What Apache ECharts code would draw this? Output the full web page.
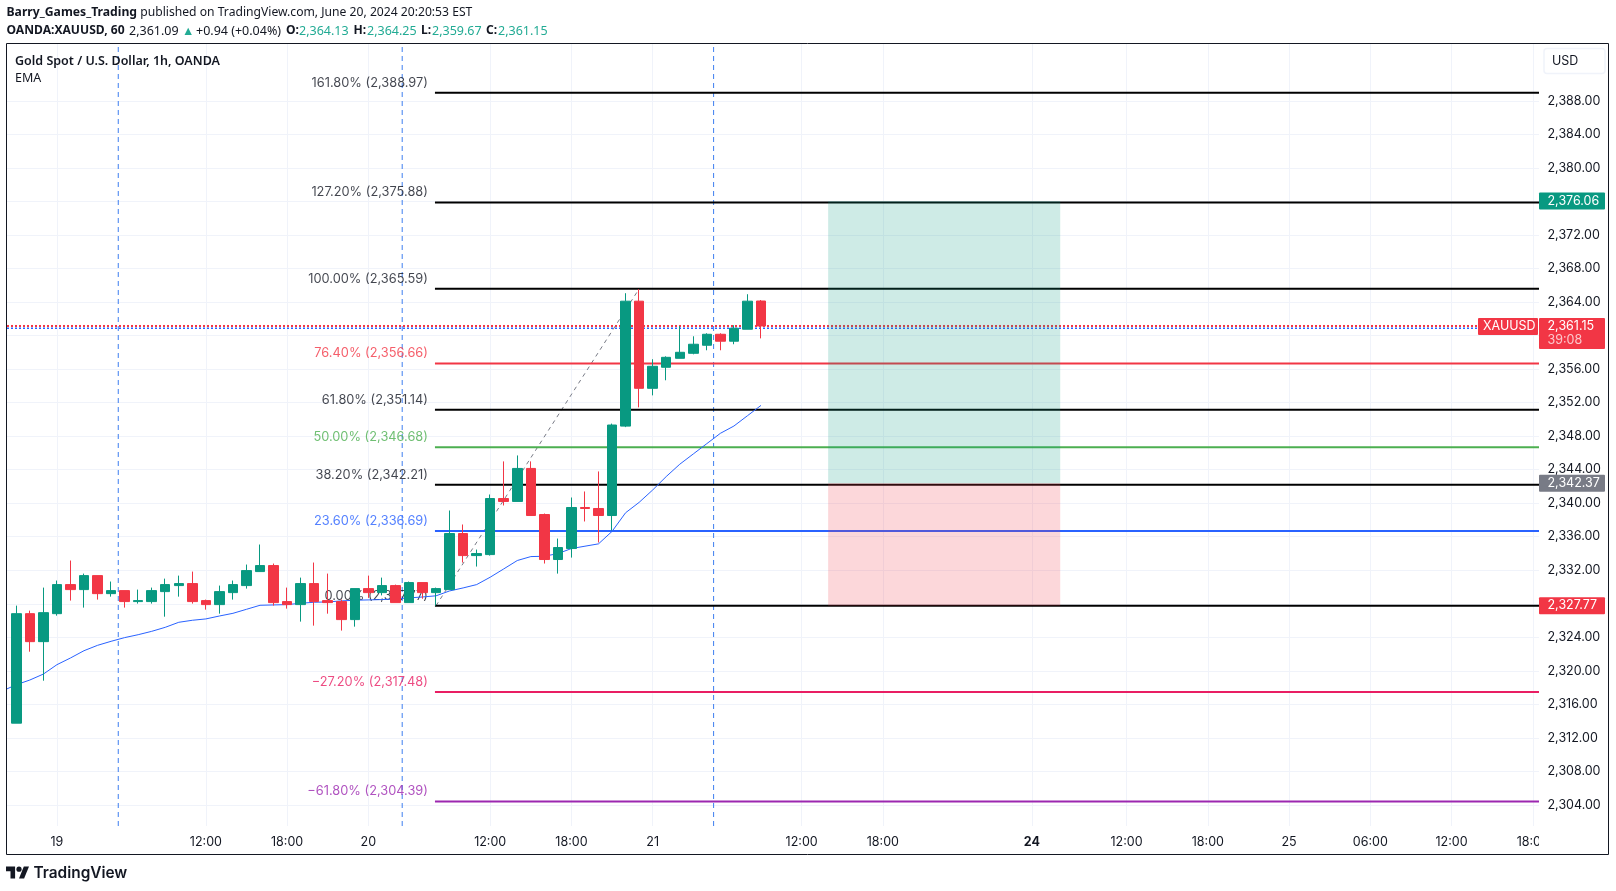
<!DOCTYPE html>
<html>
<head>
<meta charset="utf-8">
<title>XAUUSD</title>
<script src="https://cdn.jsdelivr.net/npm/echarts@6/dist/echarts.min.js"></script>
<style>
  html, body { margin: 0; padding: 0; background: #fff; }
  #main { width: 1616px; height: 891px; }
</style>
</head>
<body>
<div id="main"></div>
<script>
// hourly candles, x is the bar number
var candleOpen = [2313.75,2326.82,2323.48,2326.82,2330.29,2329.69,2331.36,2329.21,2329.57,2328.26,2328.26,2329.45,2330.17,2330.41,2328.38,2327.90,
  2329.33,2330.17,2331.84,2332.56,2328.26,2327.90,2330.41,2328.38,2328.26,2326.11,2329.81,2329.33,2330.17,2328.14,2330.53,2329.33,
  2329.69,2336.38,2333.75,2333.87,2340.56,2340.21,2344.15,2338.65,2333.28,2334.59,2339.49,2339.37,2338.53,2349.20,2364.11,2353.71,
  2356.22,2357.29,2357.89,2358.85,2360.16,2359.33,2360.76,2364.13];
var candleClose = [2326.82,2323.48,2326.94,2330.29,2329.69,2331.36,2329.21,2329.57,2328.26,2328.38,2329.57,2330.29,2330.41,2328.26,2327.90,2329.45,
  2330.29,2331.96,2332.56,2328.14,2327.90,2330.41,2328.26,2328.14,2326.11,2329.81,2329.33,2330.17,2328.14,2330.53,2329.33,2329.81,
  2336.38,2333.75,2333.99,2340.56,2340.21,2344.15,2338.53,2333.28,2334.71,2339.49,2339.37,2338.53,2349.33,2364.11,2353.71,2356.34,
  2357.41,2358.01,2358.97,2360.16,2359.33,2360.88,2364.11,2361.15];
var candleLow = [2313.75,2322.28,2318.82,2326.58,2328.38,2327.54,2328.50,2328.85,2327.54,2328.02,2328.02,2326.46,2328.85,2328.02,2327.30,2326.82,
  2328.50,2329.81,2331.84,2327.78,2327.42,2325.87,2325.39,2326.82,2324.80,2325.27,2328.70,2329.00,2328.14,2328.14,2328.60,2327.78,
  2329.69,2332.92,2332.44,2333.75,2339.73,2340.21,2338.53,2332.80,2331.60,2333.51,2337.82,2335.31,2336.74,2349.08,2351.44,2352.87,
  2354.67,2357.29,2357.77,2358.25,2358.25,2358.97,2360.76,2359.67];
var candleHigh = [2327.78,2327.18,2329.93,2330.77,2333.16,2331.60,2331.36,2330.65,2329.57,2329.69,2329.93,2331.00,2331.36,2331.84,2328.50,2330.17,
  2330.77,2332.68,2335.07,2332.80,2329.93,2331.12,2332.92,2331.60,2328.50,2329.81,2331.36,2331.12,2330.29,2330.65,2330.53,2329.93,
  2339.13,2337.46,2334.47,2341.04,2344.99,2345.70,2344.99,2338.77,2335.78,2340.68,2341.40,2343.79,2349.50,2365.06,2365.54,2357.18,
  2357.53,2361.12,2359.92,2360.28,2360.28,2361.24,2364.94,2364.25];

// EMA, first value sits one bar before the first candle
var emaValues = [2317.62,2318.34,2318.90,2319.61,2320.73,2321.53,2322.40,2323.04,2323.52,2323.96,2324.31,2324.71,2325.19,2325.79,2326.03,2326.19,2326.54,
  2326.86,2327.34,2327.82,2327.86,2327.90,2328.06,2328.18,2328.22,2328.34,2328.42,2328.46,2328.50,2328.58,2328.70,2328.81,2328.95,
  2329.53,2329.89,2330.29,2331.17,2332.16,2333.16,2333.63,2333.67,2333.99,2334.59,2334.87,2335.15,2336.64,2338.86,2340.10,2341.58,
  2343.18,2344.65,2345.88,2347.11,2348.34,2349.21,2350.44,2351.67];

var fibValues = [2388.97,2375.88,2365.59,2356.66,2351.14,2346.68,2342.21,2336.69,2327.77,2317.48,2304.39];
var fibNames = ['161.80% (2,388.97)','127.20% (2,375.88)','100.00% (2,365.59)','76.40% (2,356.66)','61.80% (2,351.14)','50.00% (2,346.68)',
  '38.20% (2,342.21)','23.60% (2,336.69)','0.00% (2,327.77)','\u221227.20% (2,317.48)','\u221261.80% (2,304.39)'];
var fibColors = ['#000000','#000000','#000000','#f23645','#000000','#4caf50','#000000','#2962ff','#000000','#e91e63','#9c27b0'];
var fibLabelColors = ['#131722','#131722','#131722','#f23645','#131722','#4caf50','#131722','#2962ff','#131722','#e91e63','#9c27b0'];
var fibStart = 30.92;
var trendFrom = [31, 2327.77];
var trendTo = [46, 2365.59];

var priceTicks = [2304,2308,2312,2316,2320,2324,2328,2332,2336,2340,2344,2348,2352,2356,2360,2364,2368,2372,2376,2380,2384,2388];
var timeTickBars = [3,14,20,26,35,41,47,58,64,75,82,88,94,100,106,112];
var timeTickNames = ['19','12:00','18:00','20','12:00','18:00','21','12:00','18:00','24','12:00','18:00','25','06:00','12:00','18:00'];
var boldTimeTicks = ['24'];
var sessionBars = [7.53,28.5,51.5];

// long position box
var boxFrom = 59.96;
var boxTo = 77.1;
var boxTarget = 2376.06;
var boxEntry = 2342.37;
var boxStop = 2327.77;

var lastPrice = 2361.15;
var lastPriceBlue = 2360.88;

var axisTagValues = [2376.06,2342.37,2327.77];
var axisTagTexts = ['2,376.06','2,342.37','2,327.77'];
var axisTagColors = ['#089981','#787b86','#f23645'];

var plotLeft = 7, plotRight = 1539, plotTop = 44, plotBottom = 826;
var xMin = -0.687, xMax = 112.46;
var yMin = 2301.48, yMax = 2394.80;
var UP = '#089981', DOWN = '#f23645', GRID = '#f0f3fa', INK = '#131722', TEAL = '#22ab94';
var AXIS_FONT = 'Inter';
var HEAD_FONT = '"Noto Sans"';

// second header line, piece by piece: text, left edge, kind
var quoteTexts = ['OANDA:XAUUSD, 60','2,361.09','\u25B2','+0.94 (+0.04%)','O:','2,364.13','H:','2,364.25','L:','2,359.67','C:','2,361.15'];
var quoteLefts = [6.5,129,182,196,286,299,353.5,367,421,432,486,498];
var quoteKinds = ['bold','plain','teal','plain','bold','teal','bold','teal','bold','teal','bold','teal'];

var candleData = candleOpen.map(function (o, i) {
  return [i, o, candleClose[i], candleLow[i], candleHigh[i]];
});
var emaData = emaValues.map(function (v, i) { return [i - 1, v]; });

var series = [];

// session break lines
sessionBars.forEach(function (b) {
  series.push({
    type: 'line', z: 2, silent: true, showSymbol: false, symbol: 'none',
    data: [[b, yMin], [b, yMax]],
    lineStyle: { color: '#3d7ef0', width: 1, type: [5, 4] }
  });
});

// last price dotted lines
series.push({
  type: 'line', z: 2, silent: true, symbol: 'none',
  data: [[xMin, lastPrice], [xMax, lastPrice]],
  lineStyle: { color: DOWN, width: 2, type: [2, 2] }
});
series.push({
  type: 'line', z: 2, silent: true, symbol: 'none',
  data: [[xMin, lastPriceBlue], [xMax, lastPriceBlue]],
  lineStyle: { color: '#2962ff', width: 1.5, type: [2, 2] }
});

// fib trend
series.push({
  type: 'line', z: 2, silent: true, symbol: 'none',
  data: [trendFrom, trendTo],
  lineStyle: { color: '#787b86', width: 1, type: [4, 4] }
});

// fib levels + their labels
fibValues.forEach(function (v, i) {
  series.push({
    type: 'line', z: 3, silent: true, symbol: 'none',
    data: [[fibStart, v], [xMax, v]],
    lineStyle: { color: fibColors[i], width: 2 }
  });
  series.push({
    type: 'scatter', z: 3, silent: true, symbolSize: 0,
    data: [[fibStart, v]],
    label: {
      show: true, position: [-7, -10], align: 'right', verticalAlign: 'middle',
      formatter: fibNames[i], color: fibLabelColors[i],
      fontFamily: AXIS_FONT, fontSize: 12.8
    }
  });
});

// EMA and the box carried on it
series.push({
  type: 'line', z: 5, silent: true, symbol: 'none',
  data: emaData,
  lineStyle: { color: '#2962ff', width: 1 },
  markArea: {
    silent: true,
    z: 4,
    data: [
      [{ coord: [boxFrom, boxTarget], itemStyle: { color: 'rgba(8,153,129,0.2)' } }, { coord: [boxTo, boxEntry] }],
      [{ coord: [boxFrom, boxEntry], itemStyle: { color: 'rgba(242,54,69,0.2)' } }, { coord: [boxTo, boxStop] }]
    ]
  }
});

series.push({
  type: 'candlestick', z: 6, silent: true,
  barWidth: 10,
  encode: { x: 0, y: [1, 2, 3, 4] },
  data: candleData,
  itemStyle: { color: UP, color0: DOWN, borderColor: UP, borderColor0: DOWN, borderWidth: 1 }
});

// price scale tags
series.push({
  type: 'custom', z: 8, silent: true, clip: false,
  data: axisTagValues.map(function (v, i) { return [0, v, i]; }),
  renderItem: function (params, api) {
    var y = api.coord([0, api.value(1)])[1];
    var idx = api.value(2);
    return {
      type: 'group',
      children: [
        { type: 'rect', shape: { x: plotRight, y: y - 8.5, width: 66, height: 17, r: 1 }, style: { fill: axisTagColors[idx] } },
        { type: 'text', style: { x: 1547.5, y: y, text: axisTagTexts[idx], fill: '#fff', font: '12.5px ' + AXIS_FONT, textVerticalAlign: 'middle' } }
      ]
    };
  }
});
series.push({
  type: 'custom', z: 8, silent: true, clip: false,
  data: [[0, lastPrice]],
  renderItem: function (params, api) {
    var y = api.coord([0, api.value(1)])[1];
    return {
      type: 'group',
      children: [
        { type: 'rect', shape: { x: 1478, y: y - 8, width: 60, height: 17, r: 1 }, style: { fill: DOWN } },
        { type: 'text', style: { x: 1483, y: y + 0.5, text: 'XAUUSD', fill: '#fff', font: '12.5px ' + AXIS_FONT, textVerticalAlign: 'middle' } },
        { type: 'rect', shape: { x: plotRight, y: y - 8, width: 66, height: 31, r: 1 }, style: { fill: DOWN } },
        { type: 'text', style: { x: 1547.5, y: y, text: '2,361.15', fill: '#fff', font: '12.5px ' + AXIS_FONT, textVerticalAlign: 'middle' } },
        { type: 'text', style: { x: 1547.5, y: y + 14, text: '39:08', fill: '#fcc8cc', font: '12.5px ' + AXIS_FONT, textVerticalAlign: 'middle' } }
      ]
    };
  }
});

var quoteFonts = { bold: 'bold 12.1px ' + HEAD_FONT, plain: '12.5px ' + HEAD_FONT, teal: '12.5px ' + HEAD_FONT };
var quoteFills = { bold: INK, plain: INK, teal: TEAL };
var quoteGraphics = quoteTexts.map(function (t, i) {
  return {
    type: 'text', z: 52, silent: true, x: quoteLefts[i], y: 31,
    style: { text: t, font: quoteFonts[quoteKinds[i]], fill: quoteFills[quoteKinds[i]], verticalAlign: 'middle' }
  };
});

var chart = echarts.init(document.getElementById('main'), null, { renderer: 'canvas' });

chart.setOption({
  animation: false,
  backgroundColor: '#ffffff',
  grid: { left: plotLeft, top: plotTop, width: plotRight - plotLeft, height: plotBottom - plotTop, containLabel: false },
  xAxis: {
    type: 'value', min: xMin, max: xMax,
    axisLine: { show: false },
    axisTick: { show: false, customValues: timeTickBars },
    splitLine: { show: true, lineStyle: { color: GRID, width: 1 } },
    axisLabel: {
      customValues: timeTickBars, margin: 10, hideOverlap: false, showMinLabel: true, showMaxLabel: true,
      color: INK, fontFamily: AXIS_FONT, fontSize: 12.5,
      formatter: function (v) {
        var name = timeTickNames[timeTickBars.indexOf(v)];
        return boldTimeTicks.indexOf(name) >= 0 ? '{b|' + name + '}' : name;
      },
      rich: { b: { fontWeight: 'bold', fontFamily: AXIS_FONT, fontSize: 12.5, color: INK } }
    }
  },
  yAxis: {
    type: 'value', position: 'right', min: yMin, max: yMax, scale: true,
    axisLine: { show: false },
    axisTick: { show: false, customValues: priceTicks },
    splitLine: { show: true, lineStyle: { color: GRID, width: 1 } },
    axisLabel: {
      customValues: priceTicks, margin: 8.5, hideOverlap: false,
      color: INK, fontFamily: AXIS_FONT, fontSize: 12.5,
      formatter: function (v) {
        return v.toLocaleString('en-US', { minimumFractionDigits: 2, maximumFractionDigits: 2 });
      }
    }
  },
  series: series,
  graphic: [
    // hides the last time label where the pane ends
    { type: 'rect', z: 50, silent: true, shape: { x: 1539, y: 827, width: 68, height: 27 }, style: { fill: '#fff' } },
    { type: 'rect', z: 51, silent: true, shape: { x: 6.5, y: 43.5, width: 1602, height: 811 }, style: { fill: 'none', stroke: INK, lineWidth: 1 } },
    {
      type: 'text', z: 52, silent: true, x: 6.5, y: 13,
      style: {
        text: '{b|Barry_Games_Trading} published on TradingView.com, June 20, 2024 20:20:53 EST',
        font: '12.15px ' + HEAD_FONT, fill: INK, verticalAlign: 'middle',
        rich: { b: { font: 'bold 12.2px ' + HEAD_FONT, fill: INK } }
      }
    },
    { type: 'text', z: 52, silent: true, x: 15, y: 61, style: { text: 'Gold Spot / U.S. Dollar, 1h, OANDA', font: '600 12.5px ' + HEAD_FONT, fill: INK, verticalAlign: 'middle' } },
    { type: 'text', z: 52, silent: true, x: 15, y: 78, style: { text: 'EMA', font: '12.5px ' + HEAD_FONT, fill: INK, verticalAlign: 'middle' } },
    { type: 'rect', z: 52, silent: true, shape: { x: 1544, y: 48.5, width: 61, height: 25, r: 3 }, style: { fill: '#fff', stroke: GRID, lineWidth: 1.5 } },
    { type: 'text', z: 53, silent: true, x: 1552, y: 61, style: { text: 'USD', font: '12.5px ' + AXIS_FONT, fill: INK, verticalAlign: 'middle' } },
    // TradingView mark
    { type: 'polygon', z: 52, silent: true, shape: { points: [[6, 866.5], [15.1, 866.5], [15.1, 878.5], [10.5, 878.5], [10.5, 871.2], [6, 871.2]] }, style: { fill: INK } },
    { type: 'polygon', z: 52, silent: true, shape: { points: [[23.8, 866.5], [29, 866.5], [24.1, 878.5], [19, 878.5]] }, style: { fill: INK } },
    { type: 'circle', z: 52, silent: true, shape: { cx: 19, cy: 869.2, r: 2.6 }, style: { fill: INK } },
    { type: 'text', z: 52, silent: true, x: 33.5, y: 873.5, style: { text: 'TradingView', font: '600 15.4px ' + AXIS_FONT, fill: INK, verticalAlign: 'middle' } }
  ].concat(quoteGraphics)
});
</script>
</body>
</html>
